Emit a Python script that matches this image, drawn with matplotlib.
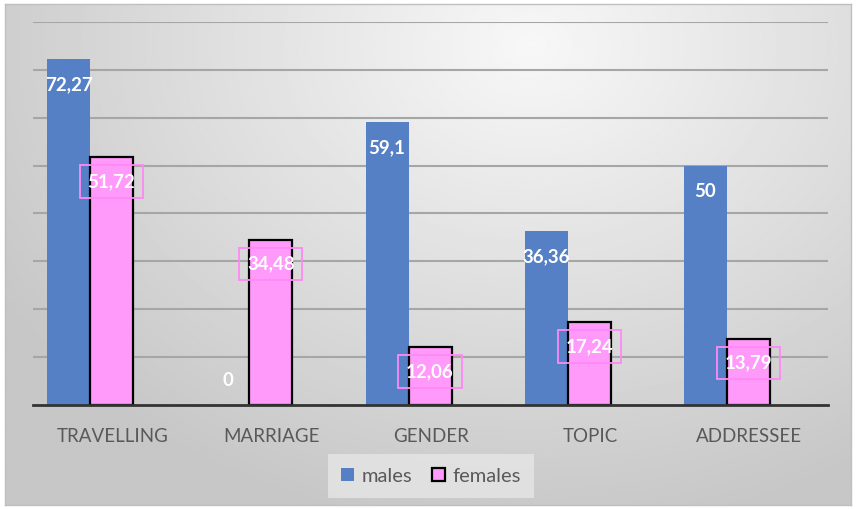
import numpy as np
import matplotlib
matplotlib.use("Agg")
import matplotlib.pyplot as plt

# data
categories = ["TRAVELLING", "MARRIAGE", "GENDER", "TOPIC", "ADDRESSEE"]
males = [72.27, 0, 59.1, 36.36, 50]
females = [51.72, 34.48, 12.06, 17.24, 13.79]
male_labels = ["72,27", "0", "59,1", "36,36", "50"]
female_labels = ["51,72", "34,48", "12,06", "17,24", "13,79"]

BLUE = "#5580c6"
PINK = "#ff99fa"
FONT = ["Lato", "DejaVu Sans"]

fig = plt.figure(figsize=(8.56, 5.09), dpi=100)

# ---- gradient background with thin frame ----
bg = fig.add_axes([5 / 856, 4 / 509, 846 / 856, 501 / 509])
h, w = 300, 500
yy, xx = np.mgrid[0:h, 0:w]
r = np.sqrt(((xx - 0.62 * w) / w) ** 2 + ((yy - 0.08 * h) / h * 0.75) ** 2)
shade = np.clip(0.97 - 0.26 * r, 0.78, 0.97)
bg.imshow(shade, cmap="gray", vmin=0, vmax=1, aspect="auto",
          extent=[0, 1, 0, 1], origin="upper", interpolation="bilinear")
bg.set_xticks([])
bg.set_yticks([])
for s in bg.spines.values():
    s.set_color("#bfbfbf")
    s.set_linewidth(1)

# ---- bars ----
ax = fig.add_axes([33 / 856, 104 / 509, 795 / 856, 383 / 509])
ax.patch.set_alpha(0)
x = np.arange(len(categories))
bw = 0.27
ax.bar(x - bw / 2, males, bw, color=BLUE, label="males", zorder=3)
ax.bar(x + bw / 2, females, bw, color=PINK, edgecolor="black", linewidth=1.6,
       label="females", zorder=3)

ax.set_xlim(-0.358, 4.634)
ax.set_ylim(0, 80)
ax.set_yticks(np.arange(10, 81, 10))
ax.yaxis.grid(True, color="#a6a6a6", linewidth=1.5, zorder=0)
ax.tick_params(axis="y", left=False, labelleft=False)
ax.tick_params(axis="x", bottom=False, pad=13)
for s in ["top", "right", "left"]:
    ax.spines[s].set_visible(False)
ax.spines["bottom"].set_color("#333333")
ax.spines["bottom"].set_linewidth(2)
ax.spines["bottom"].set_zorder(4)

# category labels sit a little right of the bar pairs in the original
ax.set_xticks(x + 0.14)
ax.set_xticklabels(categories, fontsize=13.5, color="#595959", family=FONT)

# data labels
for i in range(len(categories)):
    dy = -26 if males[i] > 0 else 24
    ax.annotate(male_labels[i], (x[i] - bw / 2, males[i]), xytext=(0, dy),
                textcoords="offset pixels", ha="center", va="center",
                color="white", fontsize=13.5, fontweight="bold", family=FONT,
                zorder=5)
    ax.annotate(female_labels[i], (x[i] + bw / 2, females[i]), xytext=(0, -24),
                textcoords="offset pixels", ha="center", va="center",
                color="white", fontsize=13.5, fontweight="bold", family=FONT,
                zorder=5,
                bbox=dict(boxstyle="square,pad=0.42", facecolor="none",
                          edgecolor="#ff88f5", linewidth=1.3))

leg = fig.legend(loc="center", bbox_to_anchor=(431 / 856, 33 / 509), ncol=2,
                 frameon=True, fancybox=False,
                 handlelength=0.65, handleheight=0.65, handletextpad=0.35,
                 columnspacing=1.0, borderpad=0.65,
                 prop={"family": FONT, "size": 14.5})
leg.get_frame().set_facecolor("#e6e6e6")
leg.get_frame().set_edgecolor("none")
for t in leg.get_texts():
    t.set_color("#595959")

fig.savefig("out.png", dpi=100)
